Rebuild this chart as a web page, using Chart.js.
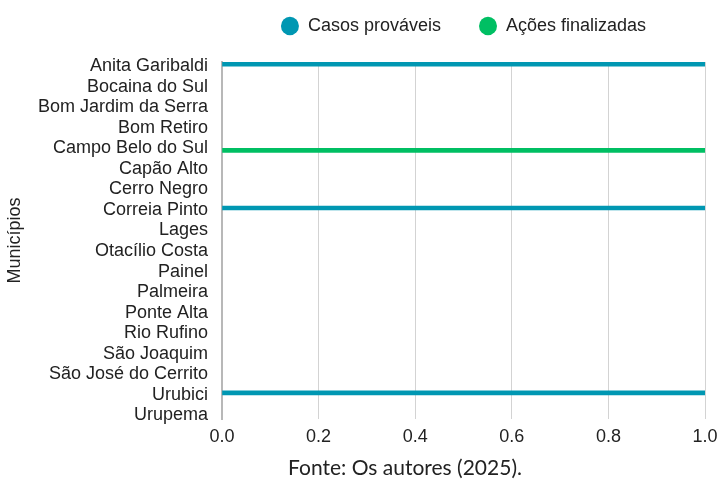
<!DOCTYPE html>
<html>
<head>
<meta charset="utf-8">
<script src="https://cdn.jsdelivr.net/npm/chart.js@4/dist/chart.umd.min.js"></script>
<style>
  body { margin: 0; background: #fff; }
</style>
</head>
<body>
<canvas id="myChart" width="720" height="479"></canvas>
<script>
const municipios = ['Anita Garibaldi', 'Bocaina do Sul', 'Bom Jardim da Serra', 'Bom Retiro',
  'Campo Belo do Sul', 'Capão Alto', 'Cerro Negro', 'Correia Pinto', 'Lages', 'Otacílio Costa',
  'Painel', 'Palmeira', 'Ponte Alta', 'Rio Rufino', 'São Joaquim', 'São José do Cerrito',
  'Urubici', 'Urupema'];
const casosProvaveis = [1, 0, 0, 0, 0, 0, 0, 1, 0, 0, 0, 0, 0, 0, 0, 0, 1, 0];
const acoesFinalizadas = [0, 0, 0, 0, 1, 0, 0, 0, 0, 0, 0, 0, 0, 0, 0, 0, 0, 0];
const fonte = 'Fonte: Os autores (2025).';

const sans = "'Liberation Sans', Arial, sans-serif";
Chart.defaults.font.family = sans;

const ctx = document.getElementById('myChart');

// pontos {x, y} para o eixo linear dos municipios (zero = sem barra)
const pontos = (vals) => vals.map((v, i) => ({x: v === 0 ? null : v, y: i}));

// espaco extra entre a legenda e a area do grafico
const legendGap = {
  id: 'legendGap',
  beforeInit(chart) {
    const fit = chart.legend.fit;
    chart.legend.fit = function () {
      fit.call(this);
      this.height += 17;
    };
  }
};

const caption = {
  id: 'caption',
  afterDraw(chart) {
    const c = chart.ctx;
    c.save();
    c.font = '21px Lato';
    c.fillStyle = '#222';
    c.textAlign = 'center';
    c.textBaseline = 'alphabetic';
    c.fillText(fonte, chart.width * 0.5625, chart.height - 4);
    c.restore();
  }
};

new Chart(ctx, {
  type: 'bar',
  data: {
    datasets: [{
      label: 'Casos prováveis',
      data: pontos(casosProvaveis),
      backgroundColor: '#0097B2',
      borderWidth: 0,
      barThickness: 4
    }, {
      label: 'Ações finalizadas',
      data: pontos(acoesFinalizadas),
      backgroundColor: '#00BF63',
      borderWidth: 0,
      barThickness: 4
    }]
  },
  options: {
    indexAxis: 'y',
    responsive: false,
    animation: false,
    layout: { padding: { top: -21, right: 15, bottom: 0, left: 0 } },
    plugins: {
      tooltip: { enabled: false },
      legend: {
        position: 'top',
        fullSize: false,
        labels: {
          usePointStyle: true,
          pointStyle: 'circle',
          boxHeight: 13,
          pointStyleWidth: 18,
          padding: 38,
          color: '#222',
          font: { family: sans, size: 18 }
        }
      }
    },
    scales: {
      x: {
        min: 0,
        max: 1,
        ticks: {
          stepSize: 0.2,
          padding: 7,
          color: '#222',
          font: { family: sans, size: 18 },
          callback: (v) => v.toFixed(1)
        },
        grid: { color: '#d3d3d3', drawTicks: false },
        border: { display: false },
        afterFit: (scale) => {
          scale.height = 60;
          scale.paddingLeft = 0;
          scale.paddingRight = 0;
        }
      },
      y: {
        type: 'linear',
        reverse: true,
        offset: false,
        min: -0.204,
        max: 17.175,
        ticks: {
          stepSize: 1,
          includeBounds: false,
          autoSkip: false,
          padding: 14,
          color: '#222',
          font: { family: sans, size: 18 },
          callback: (v) => municipios[v]
        },
        grid: { display: false, offset: false, drawTicks: false, tickLength: 0 },
        border: { display: true, color: '#b8b8b8', width: 2 },
        title: {
          display: true,
          text: 'Municípios',
          color: '#222',
          padding: { top: 4, bottom: 0 },
          font: { family: sans, size: 18 }
        },
        afterFit: (scale) => { scale.width = 222; }
      }
    }
  },
  plugins: [legendGap, caption]
});
</script>
</body>
</html>
